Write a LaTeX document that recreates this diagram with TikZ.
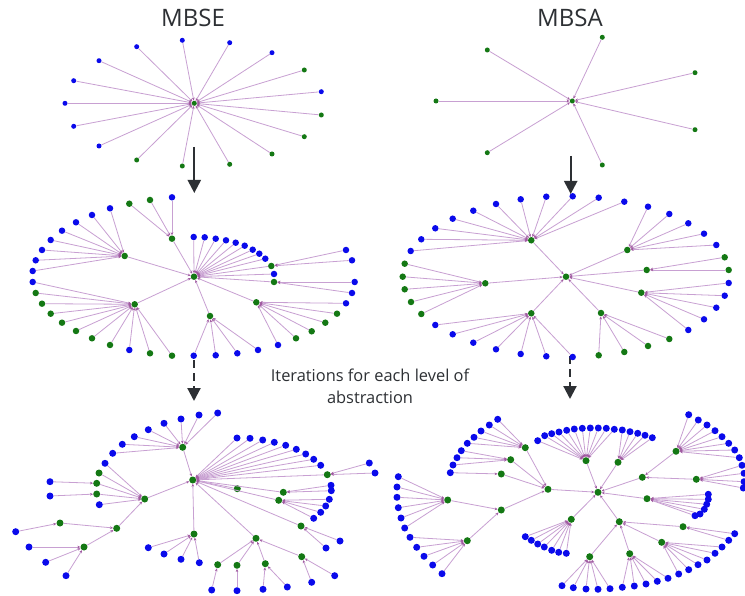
\documentclass[tikz,border=0pt]{standalone}
\usepackage{fontspec}
\setmainfont{Open Sans}
\usetikzlibrary{arrows.meta}
\definecolor{nb}{RGB}{10,10,235}
\definecolor{ng}{RGB}{20,120,20}
\definecolor{edgecol}{RGB}{200,160,210}
\definecolor{tipcol}{RGB}{160,90,160}
\definecolor{txt}{RGB}{45,48,52}
\newcommand\fan[2]{\foreach \c/\x/\y [count=\i] in {#2} {\node[nd,fill=\c] (#1-\i) at (\x,\y) {}; \draw[edge] (#1) -- (#1-\i);}}
\newcommand\hub[2]{\node[nd,fill=ng] (#1) at (#2) {};}
\begin{document}
\begin{tikzpicture}[x=1pt,y=-1pt,
  edge/.style={draw=edgecol,line width=0.8pt,{Stealth[length=3pt,width=2.6pt,color=tipcol]}-},
  nd/.style={circle,inner sep=0pt,minimum size=\ns},
  bigarrow/.style={draw=txt,line width=2.2pt,-{Triangle[width=13pt,length=13pt]}},
  title/.style={text=txt,font=\fontsize{24}{28}\selectfont},
  mid/.style={text=txt,align=center,font=\fontsize{16.4}{22}\selectfont}]
\fill[white] (0,0) rectangle (745,596);
\useasboundingbox (0,0) rectangle (745,596);
% titles
\node[title] (tse) at (193,18) {MBSE};
\node[title] (tsa) at (570,18) {MBSA};
\node[mid] (itr) at (370,386) {Iterations for each level of\\abstraction};
% arrows
\coordinate (a1s) at (194.3,147); \coordinate (a1e) at (194.3,193);
\coordinate (a2s) at (570.7,156); \coordinate (a2e) at (570.7,194);
\coordinate (a3s) at (194,360); \coordinate (a3e) at (194,401);
\coordinate (a4s) at (570,356); \coordinate (a4e) at (570,399);
\draw[bigarrow] (a1s) -- (a1e);
\draw[bigarrow] (a2s) -- (a2e);
\draw[bigarrow,dash pattern=on 8pt off 5pt] (a3s) -- (a3e);
\draw[bigarrow,dash pattern=on 8pt off 5pt] (a4s) -- (a4e);
% ---------- top MBSE
\def\ns{5pt}
\hub{t1}{194.3,103.3}
\fan{t1}{nb/182.3/40.3,nb/229.7/42.7,nb/136.7/46.7,nb/272/52.7,nb/99/60.7,ng/304.3/70,nb/73.7/80.7,nb/321.3/91.7,nb/65/103.3,ng/321.3/115,nb/73.7/126.3,ng/304.3/136.7,nb/99/146,ng/272/154,ng/136.7/160,ng/182.3/166,ng/229.7/164.3}
% ---------- top MBSA
\hub{t2}{572.3,101}
\fan{t2}{ng/602.3/37.3,ng/487.3/50,ng/695/72.7,ng/436/101,ng/695/129.7,ng/487.3/152.7,ng/602.3/165}
% ---------- middle MBSE
\def\ns{6.5pt}
\hub{m1c}{194,276.7}
\hub{m1a}{124.7,256}
\hub{m1b}{172,238.7}
\hub{m1d}{134.7,304.3}
\hub{m1e}{210,316}
\hub{m1f}{256.3,302.3}
\hub{m1g}{271.3,266}
\hub{m1h}{274,282}
\foreach \h in {a,b,d,e,f,g,h} {\draw[edge] (m1c) -- (m1\h);}
\fan{m1c}{nb/193.7/237,nb/204.7/237.3,nb/215.7/238.7,nb/226/240.3,nb/235.7/242.7,nb/244.7/245.7,nb/252.7/249.7,nb/259.3/253.7,nb/265.3/258.7,nb/274/274}
\fan{m1b}{ng/129.3/203.7,ng/150/200,nb/172/197.3}
\fan{m1a}{nb/110/208.3,nb/92/215,nb/76/222.3,nb/62/230.7,nb/50.7/240,nb/42/250,nb/35.7/260.3,nb/32.7/271}
\fan{m1d}{nb/32.7/282,ng/35.7/293,ng/42/303.7,ng/50.7/313.7,ng/62/322.7,ng/76/331,ng/92/338.3,ng/110/345,nb/129.3/350,ng/150/353.3,ng/172/355.7}
\fan{m1e}{nb/193.7/355.7,nb/215.7/355.3,nb/237.3/353.3,nb/258/350}
\fan{m1f}{nb/278/345,ng/296/338.3,ng/311.7/331.3,ng/325.3/322.7,ng/337/313.7,nb/346/303.3}
\fan{m1g}{nb/346/250,nb/352/260.3}
\fan{m1h}{nb/354.7/282,nb/352/293}
% ---------- middle MBSA
\hub{m2c}{566,276.7}
\hub{m2a}{531.3,240.3}
\hub{m2b}{627.3,250}
\hub{m2k}{646.7,270}
\hub{m2d}{485.3,283.3}
\hub{m2e}{641.3,292.7}
\hub{m2f}{531.3,313.3}
\hub{m2g}{601,313}
\foreach \h in {a,b,k,d,e,f,g} {\draw[edge] (m2c) -- (m2\h);}
\fan{m2a}{nb/410.7/251,nb/421.3/239.3,nb/435.3/228.3,nb/452.7/218.7,nb/473.3/210.7,nb/496/204,nb/520.7/199.3,nb/546.3/196.7,nb/572.7/196.3,nb/598.7/197.7,nb/624.3/201.7}
\fan{m2b}{nb/648/206.7,nb/669.3/214,nb/688.3/223.3,nb/704/233.7,nb/716.3/245}
\fan{m2k}{ng/724.7/257.3,ng/728.7/270}
\fan{m2d}{ng/404.7/263.7,ng/402.7/276.7,ng/404.7/289.3,ng/411/302,ng/421.3/314}
\fan{m2e}{nb/728.7/283,nb/724.7/295.7,nb/716.3/307.7,nb/704/319.3,nb/688.3/330}
\fan{m2f}{nb/435.3/325,nb/452.7/334.3,nb/473.3/342.7,nb/496/349.3,nb/520.7/354,nb/546.3/356.3,nb/572.7/357}
\fan{m2g}{ng/598.7/355.3,ng/624.3/352,ng/648/346,ng/669.3/339}
% ---------- bottom MBSE
\def\ns{7pt}
\hub{b1c}{192.7,480}
\hub{b1a}{182.7,447.3}
\hub{b1b}{144.7,499}
\hub{b1k}{327.3,474.7}
\hub{b1d}{237.3,488.7}
\hub{b1e}{283.3,492.3}
\hub{b1f}{278.7,500.3}
\hub{b1g}{301,526}
\hub{b1h}{194,534}
\hub{b1i}{256,538.3}
\hub{b1j}{116.7,528.3}
\hub{b1q}{60,523}
\hub{b1r}{84,547}
\hub{b1m}{301.7,556.7}
\hub{b1n}{217.7,564.7}
\hub{b1o}{237,565.3}
\hub{b1p}{265.3,563.7}
\hub{b1u}{96.7,483.3}
\hub{b1v}{96.7,494}
\foreach \h in {a,b,k,d,e,f,g,h,i} {\draw[edge] (b1c) -- (b1\h);}
\foreach \h in {j,u,v} {\draw[edge] (b1b) -- (b1\h);}
\foreach \h in {q,r} {\draw[edge] (b1j) -- (b1\h);}
\foreach \h in {m,n,o,p} {\draw[edge] (b1i) -- (b1\h);}
\fan{b1a}{nb/112.7/453.3,nb/122.3/444.3,nb/134.3/436.7,nb/148.3/429.7,nb/164/423.3,nb/181/419,nb/199/415,nb/217.7/413}
\fan{b1b}{nb/105/463.3,ng/99/473,nb/99.3/504.7}
\fan{b1u}{nb/50/481.7}
\fan{b1v}{nb/50/496}
\fan{b1c}{nb/237/438,nb/250/438.3,nb/262.7/440,nb/274.3/442.3,nb/285.7/445.3,nb/296.3/449.3,nb/305.7/454,nb/313.7/459.3,nb/320.7/465.3}
\fan{b1e}{nb/331/485.3,nb/331.3/490.7}
\fan{b1f}{nb/329.3/499.3,nb/325.7/506,nb/320.7/512.3,nb/313.7/518.3}
\fan{b1k}{nb/369.3/463,nb/375/473}
\fan{b1g}{nb/340/541,nb/326/548}
\fan{b1h}{nb/148.3/547.7,nb/164/554,nb/181/559.3,nb/199.3/562.7}
\fan{b1m}{nb/334.7/575.7,nb/311.7/582.3}
\fan{b1n}{nb/211.7/590}
\fan{b1o}{nb/237/590.7}
\fan{b1p}{nb/263/589.3,nb/287.3/587}
\fan{b1q}{nb/15.7/531.7}
\fan{b1r}{nb/29/547,nb/45.7/562.3,nb/66/575.7}
% ---------- bottom MBSA
\hub{b2c}{598,492.3}
\hub{b2x}{548,489.3}
\hub{b2xa}{525.3,447.7}
\hub{b2xb}{510.7,459.7}
\hub{b2xc}{501.3,474}
\hub{b2y}{501.3,510}
\hub{b2z}{447.7,500}
\hub{b2w}{467.3,540.7}
\hub{b2s}{586,460.7}
\hub{b2t}{618,462.3}
\hub{b2u}{642.3,477.3}
\hub{b2v}{647,498.7}
\hub{b2p}{571.3,519.3}
\hub{b2q}{619.3,521.7}
\hub{b2ua}{676,451.3}
\hub{b2ub}{696.3,479.3}
\hub{b2qa}{589.7,556.7}
\hub{b2qb}{629.7,553.7}
\hub{b2qc}{661.7,542.3}
\hub{b2qd}{683,526.7}
\foreach \h in {x,s,t,u,v,p,q} {\draw[edge] (b2c) -- (b2\h);}
\foreach \h in {xa,xb,xc,y} {\draw[edge] (b2x) -- (b2\h);}
\foreach \h in {z,w} {\draw[edge] (b2y) -- (b2\h);}
\foreach \h in {ua,ub} {\draw[edge] (b2u) -- (b2\h);}
\foreach \h in {qa,qb,qc,qd} {\draw[edge] (b2q) -- (b2\h);}
\fan{b2xa}{nb/497.7/419.3,nb/489.3/425,nb/481/431,nb/474/437.3,nb/467.3/443.3}
\fan{b2xb}{nb/461.3/450.7,nb/457/457.7,nb/453/465}
\fan{b2xc}{nb/450.3/472.7}
\fan{b2z}{nb/398.3/476.7,nb/397/487,nb/397/497.3,nb/398.3/507.7,nb/401/518,nb/404.7/528}
\fan{b2w}{nb/410/537.3,nb/416.7/547.3,nb/424/556.3,nb/432.7/565,nb/442/573.7}
\fan{b2s}{nb/537.7/440.7,nb/544.7/435.7,nb/551.7/433.7,nb/559/432,nb/566.7/430.3,nb/574.3/429,nb/582.3/428.3,nb/590.3/428,nb/598.3/428,nb/606.3/428.3,nb/614.3/429.3}
\fan{b2t}{nb/622.3/430,nb/630/431.7,nb/637.7/433.3,nb/645/435.3,nb/652.3/437.7}
\fan{b2ua}{nb/688.7/414.7,nb/698.3/420,nb/707/425,nb/715/430.7,nb/722/436.7,nb/728.7/443.3,nb/734.7/450,nb/739.3/457.7}
\fan{b2ub}{nb/742/465.3,nb/744/473.3,nb/744/481.7,nb/743.3/488}
\fan{b2v}{nb/708.3/494.3,nb/708.3/499.3,nb/706.7/504.3,nb/704.3/509.3,nb/700/514,nb/695/515.7}
\fan{b2p}{nb/525.3/536.7,nb/531.3/540.3,nb/537.7/544,nb/544.3/547,nb/551.7/550.3,nb/558.7/552.3,nb/566.3/553.3}
\fan{b2qa}{nb/562/585.7,nb/573.3/587.7,nb/586/589,nb/598/589.3,nb/610/588.7}
\fan{b2qb}{nb/622.3/587.3,nb/634.3/586,nb/646/584,nb/657.3/581.3,nb/668/578.3}
\fan{b2qc}{nb/678.7/574,nb/688.7/569.7,nb/698/564.7,nb/707/560,nb/715/553.3,nb/722/547}
\fan{b2qd}{nb/728.7/540.3,nb/734.7/533.7}
\end{tikzpicture}
\end{document}
